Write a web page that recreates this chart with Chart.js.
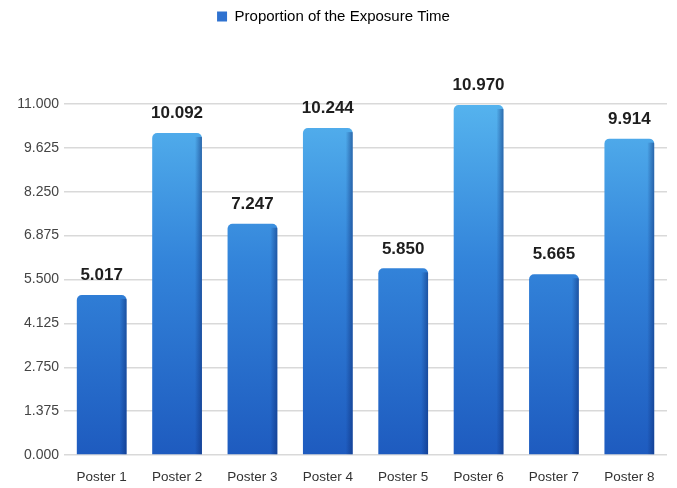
<!DOCTYPE html>
<html>
<head>
<meta charset="utf-8">
<script src="https://cdn.jsdelivr.net/npm/chart.js@4/dist/chart.umd.min.js"></script>
<style>
  html, body { margin: 0; padding: 0; background: #fff; }
  #wrap { width: 677px; height: 488px; }
</style>
</head>
<body>
<div id="wrap"><canvas id="canvas"></canvas></div>
<script>
// data
var posters = ['Poster 1', 'Poster 2', 'Poster 3', 'Poster 4', 'Poster 5', 'Poster 6', 'Poster 7', 'Poster 8'];
var exposure = [5.017, 10.092, 7.247, 10.244, 5.850, 10.970, 5.665, 9.914];
var yTicks = [0, 1.375, 2.75, 4.125, 5.5, 6.875, 8.25, 9.625, 11];

var fontFamily = '"Liberation Sans", Arial, sans-serif';

// vertical gradient for the bars, light on top
function barFill(context) {
    var chart = context.chart;
    var area = chart.chartArea;
    if (!area) return '#2f7fd6';
    var g = chart.ctx.createLinearGradient(0, area.top, 0, area.bottom);
    g.addColorStop(0, '#55b3ee');
    g.addColorStop(0.45, '#3384da');
    g.addColorStop(1, '#1e5bbf');
    return g;
}

// darker right side strip + value labels on top of each bar
var barExtras = {
    id: 'barExtras',
    afterDatasetsDraw: function(chart) {
        var ctx = chart.ctx;
        var meta = chart.getDatasetMeta(0);
        ctx.save();
        meta.data.forEach(function(bar, i) {
            var right = bar.x + bar.width / 2;
            var g = ctx.createLinearGradient(right - 7, 0, right, 0);
            g.addColorStop(0, 'rgba(10,40,110,0.0)');
            g.addColorStop(1, 'rgba(10,40,110,0.5)');
            ctx.fillStyle = g;
            ctx.fillRect(right - 7, bar.y + 4, 7, bar.base - bar.y - 4);

            ctx.fillStyle = '#1e1e1e';
            ctx.font = 'bold 17px ' + fontFamily;
            ctx.textAlign = 'center';
            ctx.textBaseline = 'bottom';
            ctx.fillText(exposure[i].toFixed(3), bar.x, bar.y - 11);
        });
        ctx.restore();
    }
};

var config = {
    type: 'bar',
    data: {
        labels: posters,
        datasets: [{
            label: 'Proportion of the Exposure Time',
            data: exposure,
            backgroundColor: barFill,
            borderWidth: 0,
            borderRadius: { topLeft: 5, topRight: 5 },
            borderSkipped: false,
            barPercentage: 0.66,
            categoryPercentage: 1.0
        }]
    },
    options: {
        responsive: true,
        maintainAspectRatio: false,
        animation: false,
        layout: { padding: { left: 0, right: 10, top: 1, bottom: 0 } },
        plugins: {
            legend: {
                display: true,
                position: 'top',
                labels: {
                    boxWidth: 10,
                    boxHeight: 10,
                    color: '#555',
                    padding: 8,
                    font: { size: 15, family: fontFamily },
                    generateLabels: function(chart) {
                        return [{
                            text: 'Proportion of the Exposure Time',
                            fillStyle: '#2f72d0',
                            strokeStyle: '#2f72d0',
                            lineWidth: 0,
                            datasetIndex: 0
                        }];
                    }
                }
            },
            tooltip: { enabled: false }
        },
        scales: {
            x: {
                afterFit: function(scale) { scale.height = 33; },
                grid: { display: false, drawTicks: false },
                border: { display: false },
                ticks: {
                    color: '#333',
                    padding: 14,
                    font: { size: 13.5, family: fontFamily }
                }
            },
            y: {
                min: 0,
                max: 11,
                afterFit: function(scale) { scale.width = 64; },
                afterBuildTicks: function(scale) {
                    scale.ticks = yTicks.map(function(v) { return { value: v }; });
                },
                grid: { color: '#d9d9d9', lineWidth: 1.5, drawTicks: false },
                border: { display: false },
                ticks: {
                    color: '#444',
                    padding: 5,
                    font: { size: 14, family: fontFamily },
                    callback: function(v) { return Number(v).toFixed(3); }
                }
            }
        }
    },
    plugins: [barExtras, {
        id: 'legendGap',
        beforeInit: function(chart) {
            var fit = chart.legend.fit;
            chart.legend.fit = function() {
                fit.bind(chart.legend)();
                this.height += 70;
            };
        }
    }]
};

window.onload = function() {
    var ctx = document.getElementById('canvas').getContext('2d');
    window.myBar = new Chart(ctx, config);
};
</script>
</body>
</html>
